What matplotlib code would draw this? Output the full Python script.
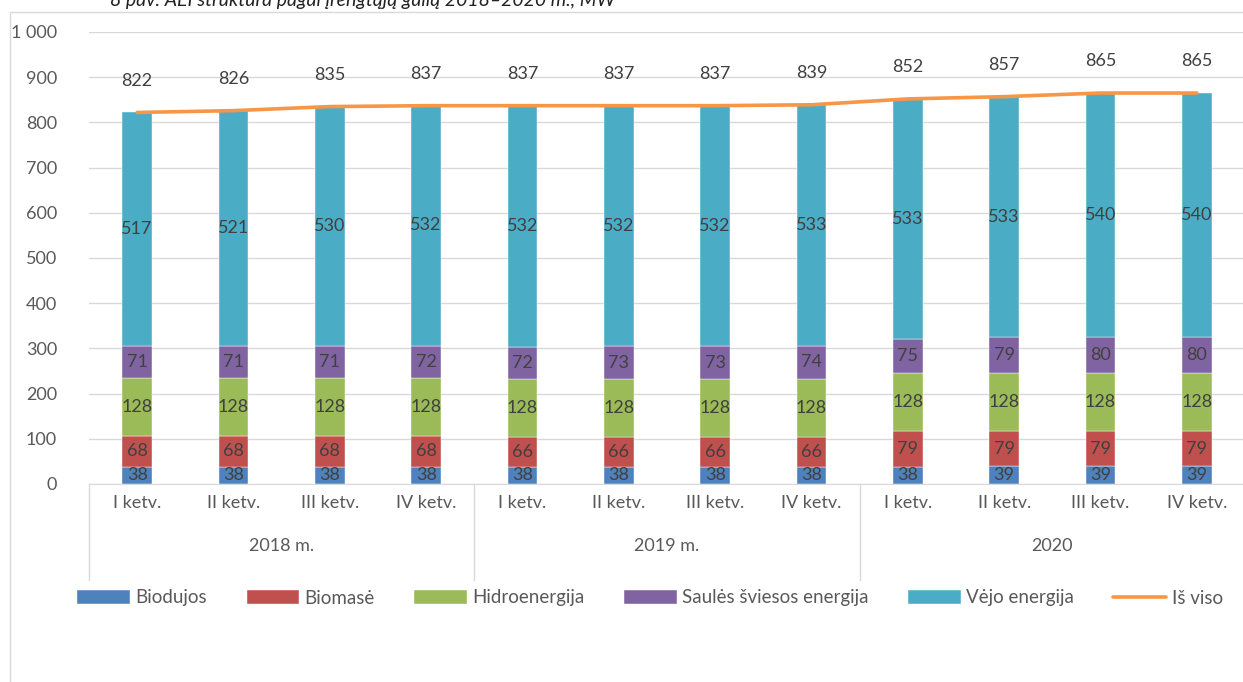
import numpy as np
import matplotlib.pyplot as plt
from matplotlib.patches import Rectangle

plt.rcParams['font.family'] = ['Lato', 'DejaVu Sans']

# duomenys (MW)
quarters = ['I ketv.', 'II ketv.', 'III ketv.', 'IV ketv.'] * 3
years = ['2018 m.', '2019 m.', '2020']
biodujos = [38, 38, 38, 38, 38, 38, 38, 38, 38, 39, 39, 39]
biomase = [68, 68, 68, 68, 66, 66, 66, 66, 79, 79, 79, 79]
hidro = [128, 128, 128, 128, 128, 128, 128, 128, 128, 128, 128, 128]
saule = [71, 71, 71, 72, 72, 73, 73, 74, 75, 79, 80, 80]
vejas = [517, 521, 530, 532, 532, 532, 532, 533, 533, 533, 540, 540]
is_viso = [822, 826, 835, 837, 837, 837, 837, 839, 852, 857, 865, 865]

series = [('Biodujos', biodujos, '#4F81BD'),
          ('Biomasė', biomase, '#C0504D'),
          ('Hidroenergija', hidro, '#9BBB59'),
          ('Saulės šviesos energija', saule, '#8064A2'),
          ('Vėjo energija', vejas, '#4BACC6')]

W, H = 1243, 682
fig = plt.figure(figsize=(W / 100, H / 100), dpi=100)
ax = fig.add_axes([89 / W, (H - 484) / H, 1156 / W, 452 / H])

x = np.arange(len(quarters))
bottom = np.zeros(len(x))
handles = []
for name, vals, col in series:
    vals = np.array(vals)
    h = ax.bar(x, vals, 0.31, bottom=bottom, color=col, label=name,
               edgecolor='white', linewidth=0.3, zorder=2)
    handles.append(h)
    for xi, b, v in zip(x, bottom, vals):
        ax.text(xi, b + v / 2, str(v), ha='center', va='center',
                fontsize=13, color='#404040', zorder=4)
    bottom += vals

line, = ax.plot(x, is_viso, color='#F79646', lw=2.6, label='Iš viso',
                zorder=3, solid_capstyle='round')
handles.append(line)
for xi, v in zip(x, is_viso):
    ax.annotate(str(v), (xi, v), xytext=(0, 23), textcoords='offset points',
                ha='center', va='center', fontsize=13, color='#404040')

ax.set_xlim(-0.5, len(x) - 0.5)
ax.set_ylim(0, 1000)
ax.set_yticks(range(0, 1001, 100))
ax.set_yticklabels([f'{v:,}'.replace(',', ' ') for v in range(0, 1001, 100)])
ax.yaxis.grid(True, color='#D9D9D9', lw=1, zorder=0)
ax.set_axisbelow(True)
for s in ['top', 'right', 'left']:
    ax.spines[s].set_visible(False)
ax.spines['bottom'].set_color('#D9D9D9')
ax.tick_params(axis='y', length=0, labelsize=13, labelcolor='#595959', pad=23)
ax.set_xticks(x)
ax.set_xticklabels(quarters)
ax.tick_params(axis='x', length=0, labelsize=13, labelcolor='#595959', pad=8)

# metu grupes
trans = ax.get_xaxis_transform()
for i in range(4):
    ax.plot([i * 4 - 0.5] * 2, [0, -96 / 452], color='#D9D9D9', lw=1,
            transform=trans, clip_on=False)
for i, yname in enumerate(years):
    ax.text(i * 4 + 1.5, -62 / 452, yname, transform=trans, ha='center',
            va='center', fontsize=13, color='#595959')

fig.legend(handles=handles, loc='center', bbox_to_anchor=(650 / W, (H - 598) / H),
           ncol=6, frameon=False, fontsize=13.5, labelcolor='#595959',
           handlelength=2.8, handleheight=0.7, columnspacing=2.1,
           handletextpad=0.3)

fig.patches.append(Rectangle((9.5 / W, -0.05), 1.1, (H - 12) / H + 0.05,
                             transform=fig.transFigure, fill=False,
                             edgecolor='#D9D9D9', lw=1))
fig.text(110 / W, 1 - 6 / H, '8 pav. AEI struktūra pagal įrengtąją galią 2018–2020 m., MW',
         fontsize=14, style='italic', va='baseline', color='#222222')

fig.savefig('out.png', dpi=100)
